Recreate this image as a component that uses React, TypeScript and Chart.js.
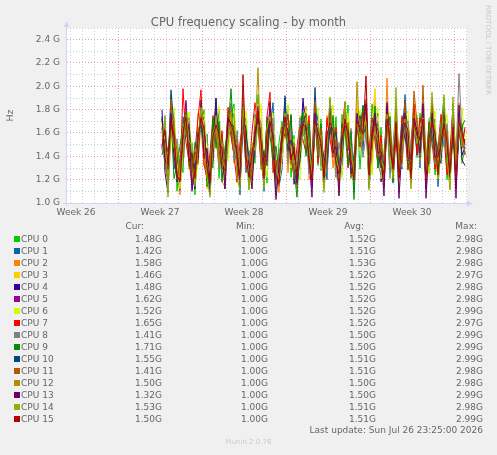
import React, { useEffect, useRef } from 'react';
import { Chart, registerables } from 'chart.js';

Chart.register(...registerables);

const FONT = '"DejaVu Sans", "Liberation Sans", sans-serif';
const TEXT = '#666666';

// ---- data ----
const chartTitle = 'CPU frequency scaling - by month';
const cpuNames = ['CPU 0', 'CPU 1', 'CPU 2', 'CPU 3', 'CPU 4', 'CPU 5', 'CPU 6', 'CPU 7', 'CPU 8', 'CPU 9', 'CPU 10', 'CPU 11', 'CPU 12', 'CPU 13', 'CPU 14', 'CPU 15'];
const cpuColors = ['#00CC00', '#0066B3', '#FF8000', '#FFCC00', '#330099', '#990099', '#CCFF00', '#FF0000', '#808080', '#008F00', '#00487D', '#B35A00', '#B38F00', '#6B006B', '#8FB300', '#B30000'];

const curValues = [1.48, 1.42, 1.58, 1.46, 1.48, 1.62, 1.52, 1.65, 1.41, 1.71, 1.55, 1.41, 1.50, 1.32, 1.53, 1.50];
const minValues = [1.00, 1.00, 1.00, 1.00, 1.00, 1.00, 1.00, 1.00, 1.00, 1.00, 1.00, 1.00, 1.00, 1.00, 1.00, 1.00];
const avgValues = [1.52, 1.51, 1.53, 1.52, 1.52, 1.52, 1.52, 1.52, 1.50, 1.50, 1.51, 1.51, 1.50, 1.50, 1.51, 1.51];
const maxValues = [2.98, 2.98, 2.98, 2.97, 2.98, 2.98, 2.99, 2.97, 2.99, 2.99, 2.99, 2.98, 2.98, 2.99, 2.98, 2.99];

// time axis in hours from the left edge of the graph; samples every 6 h
const xRange = [0, 802];
const sampleStartHour = 192;
const sampleStepHours = 6;
const dayLineHours = [8, 32, 56, 80, 104, 128, 152, 176, 200, 224, 248, 272, 296, 320, 344, 368, 392, 416, 440, 464, 488, 512, 536, 560, 584, 608, 632, 656, 680, 704, 728, 752, 776, 800];
const weekLineHours = [104, 272, 440, 608, 776];
const weekLabelHours = [20, 188, 356, 524, 692];
const weekLabels = ['Week 26', 'Week 27', 'Week 28', 'Week 29', 'Week 30'];

const yRange = [1.0, 2.5];
const yTickValues = [1.0, 1.1, 1.2, 1.3, 1.4, 1.5, 1.6, 1.7, 1.8, 1.9, 2.0, 2.1, 2.2, 2.3, 2.4, 2.5];
const yMajorTicks = [1.0, 1.2, 1.4, 1.6, 1.8, 2.0, 2.2, 2.4];

const cpu0 = [
  1.74, 1.33, 1.21, 1.68, 1.77, 1.10, 1.41, 1.26, 1.86, 1.45, 1.52, 1.07, 1.65, 1.59, 1.80, 1.17, 1.37,
  1.30, 1.89, 1.21, 1.59, 1.28, 1.48, 1.75, 1.85, 1.24, 1.44, 1.65, 1.73, 1.12, 1.47, 1.34, 1.93, 1.29,
  1.45, 1.17, 1.87, 1.37, 1.06, 1.52, 1.70, 1.55, 1.83, 1.22, 1.58, 1.16, 1.68, 1.77, 1.47, 1.62, 1.13,
  1.88, 1.32, 1.72, 1.20, 1.61, 1.64, 1.41, 1.74, 1.07, 1.76, 1.57, 1.84, 1.21, 1.39, 1.80, 1.29, 1.68,
  1.72, 1.32, 1.85, 1.59, 1.30, 1.65, 1.14, 1.87, 1.26, 1.43, 1.62, 1.09, 1.75, 1.69, 1.28, 1.51, 1.83,
  1.39, 1.77, 1.60, 1.18, 1.72, 1.76, 1.24, 1.48, 1.66, 1.90, 1.20, 1.40, 1.61, 1.22, 1.74, 1.34, 1.48,
];
const cpu1 = [
  1.48, 1.69, 1.24, 1.93, 1.29, 1.44, 1.17, 1.74, 1.58, 1.65, 1.14, 1.37, 1.33, 1.83, 1.44, 1.59, 1.12,
  1.70, 1.52, 1.80, 1.22, 1.40, 1.78, 1.59, 1.41, 1.62, 1.07, 1.85, 1.26, 1.45, 1.18, 1.76, 1.64, 1.57,
  1.10, 1.74, 1.61, 1.86, 1.34, 1.14, 1.29, 1.90, 1.39, 1.70, 1.20, 1.41, 1.34, 1.85, 1.72, 1.32, 1.26,
  1.59, 1.76, 1.28, 1.44, 1.20, 1.89, 1.60, 1.32, 1.41, 1.24, 1.82, 1.48, 1.62, 1.10, 1.68, 1.75, 1.45,
  1.87, 1.13, 1.45, 1.78, 1.65, 1.22, 1.37, 1.64, 1.74, 1.17, 1.77, 1.34, 1.29, 1.93, 1.52, 1.21, 1.66,
  1.74, 1.30, 1.86, 1.37, 1.26, 1.64, 1.72, 1.14, 1.51, 1.75, 1.61, 1.28, 1.85, 1.12, 1.59, 1.68, 1.42,
];
const cpu2 = [
  1.55, 1.41, 1.32, 1.77, 1.64, 1.26, 1.07, 1.57, 1.79, 1.29, 1.37, 1.21, 1.77, 1.65, 1.32, 1.47, 1.22,
  1.41, 1.83, 1.62, 1.18, 1.14, 1.70, 1.86, 1.34, 1.52, 1.28, 1.74, 1.59, 1.21, 1.33, 1.68, 1.77, 1.39,
  1.33, 1.55, 1.73, 1.30, 1.24, 1.09, 1.66, 1.75, 1.26, 1.60, 1.45, 1.12, 1.55, 1.65, 1.83, 1.20, 1.30,
  1.75, 1.43, 1.59, 1.14, 1.75, 1.68, 1.30, 1.53, 1.24, 1.62, 1.87, 1.36, 1.52, 1.28, 1.60, 1.70, 1.77,
  1.64, 1.43, 1.26, 1.88, 1.48, 1.55, 1.18, 2.07, 1.33, 1.39, 1.60, 1.24, 1.65, 1.79, 1.41, 1.30, 1.75,
  1.53, 1.69, 1.72, 1.29, 1.59, 1.83, 1.36, 1.24, 1.69, 1.62, 1.43, 1.12, 1.73, 1.40, 1.86, 1.55, 1.58,
];
const cpu3 = [
  1.65, 1.60, 1.14, 1.64, 1.47, 1.36, 1.25, 1.43, 1.72, 1.75, 1.22, 1.29, 1.48, 1.90, 1.61, 1.12, 1.32,
  1.60, 1.66, 1.33, 1.47, 1.21, 1.58, 1.68, 1.76, 1.17, 1.37, 1.80, 1.44, 1.28, 1.12, 1.54, 1.85, 1.65,
  1.22, 1.39, 1.79, 1.58, 1.17, 1.32, 1.47, 1.67, 1.62, 1.41, 1.26, 1.22, 1.75, 1.59, 1.55, 1.44, 1.20,
  1.69, 1.60, 1.37, 1.30, 1.48, 1.83, 1.52, 1.22, 1.17, 1.57, 1.64, 1.74, 1.30, 1.21, 1.88, 1.45, 1.59,
  1.80, 1.24, 1.64, 1.98, 1.37, 1.33, 1.26, 1.68, 1.60, 1.24, 1.86, 1.17, 1.45, 1.62, 1.72, 1.13, 1.89,
  1.61, 1.41, 1.79, 1.22, 1.44, 1.66, 1.55, 1.33, 1.40, 1.83, 1.32, 1.21, 1.64, 1.29, 1.68, 1.51, 1.46,
];
const cpu4 = [
  1.80, 1.26, 1.09, 1.83, 1.55, 1.18, 1.33, 1.65, 1.62, 1.51, 1.26, 1.12, 1.58, 1.73, 1.40, 1.34, 1.18,
  1.52, 1.90, 1.45, 1.30, 1.33, 1.66, 1.61, 1.55, 1.47, 1.20, 1.72, 1.64, 1.30, 1.24, 1.45, 1.73, 1.60,
  1.28, 1.65, 1.69, 1.48, 1.29, 1.21, 1.58, 1.62, 1.54, 1.75, 1.16, 1.29, 1.44, 1.90, 1.59, 1.53, 1.24,
  1.65, 1.68, 1.52, 1.24, 1.53, 1.73, 1.69, 1.43, 1.26, 1.41, 1.74, 1.57, 1.44, 1.32, 1.65, 1.62, 1.83,
  1.75, 1.21, 1.57, 1.72, 1.77, 1.18, 1.30, 1.83, 1.45, 1.29, 1.72, 1.26, 1.59, 1.88, 1.36, 1.39, 1.68,
  1.48, 1.58, 1.76, 1.12, 1.65, 1.79, 1.41, 1.39, 1.60, 1.70, 1.53, 1.32, 1.80, 1.21, 1.77, 1.41, 1.48,
];
const cpu5 = [
  1.47, 1.64, 1.28, 1.72, 1.37, 1.30, 1.11, 1.59, 1.88, 1.41, 1.18, 1.44, 1.39, 1.68, 1.74, 1.28, 1.07,
  1.64, 1.59, 1.68, 1.36, 1.24, 1.75, 1.79, 1.45, 1.34, 1.29, 1.69, 1.53, 1.17, 1.40, 1.61, 1.83, 1.37,
  1.17, 1.47, 1.76, 1.65, 1.12, 1.39, 1.34, 1.82, 1.49, 1.53, 1.39, 1.18, 1.62, 1.73, 1.65, 1.58, 1.14,
  1.79, 1.52, 1.45, 1.34, 1.69, 1.59, 1.62, 1.47, 1.13, 1.68, 1.66, 1.45, 1.52, 1.16, 1.75, 1.60, 1.62,
  1.84, 1.28, 1.48, 1.65, 1.55, 1.44, 1.22, 1.75, 1.53, 1.32, 1.67, 1.21, 1.62, 1.73, 1.55, 1.17, 1.72,
  1.41, 1.62, 1.69, 1.17, 1.54, 1.85, 1.59, 1.26, 1.57, 1.68, 1.39, 1.36, 1.76, 1.14, 1.70, 1.53, 1.62,
];
const cpu6 = [
  1.59, 1.68, 1.37, 1.52, 1.82, 1.30, 1.12, 1.48, 1.62, 1.78, 1.41, 1.20, 1.32, 1.70, 1.76, 1.51, 1.22,
  1.41, 1.64, 1.83, 1.26, 1.45, 1.36, 1.76, 1.80, 1.52, 1.24, 1.60, 1.79, 1.39, 1.17, 1.73, 1.59, 1.85,
  1.34, 1.22, 1.66, 1.77, 1.44, 1.20, 1.37, 1.64, 1.85, 1.30, 1.55, 1.32, 1.20, 1.72, 1.80, 1.61, 1.29,
  1.64, 1.82, 1.29, 1.44, 1.34, 1.68, 1.84, 1.26, 1.45, 1.21, 1.68, 1.77, 1.51, 1.18, 1.64, 1.80, 1.54,
  1.72, 1.52, 1.24, 1.69, 1.82, 1.21, 1.47, 1.62, 1.78, 1.24, 1.59, 1.51, 1.32, 1.73, 1.79, 1.20, 1.59,
  1.76, 1.36, 1.65, 1.51, 1.25, 1.68, 1.79, 1.21, 1.39, 1.61, 1.76, 1.18, 1.55, 1.44, 1.72, 1.82, 1.52,
];
const cpu7 = [
  1.64, 1.48, 1.30, 1.59, 1.62, 1.45, 1.22, 1.98, 1.52, 1.36, 1.16, 1.45, 1.73, 1.97, 1.33, 1.21, 1.43,
  1.75, 1.55, 1.36, 1.62, 1.21, 1.82, 1.57, 1.41, 1.18, 1.52, 1.69, 1.32, 1.24, 1.61, 1.86, 1.66, 1.34,
  1.21, 1.74, 1.95, 1.26, 1.37, 1.16, 1.65, 1.57, 1.76, 1.39, 1.22, 1.48, 1.68, 1.54, 1.43, 1.75, 1.28,
  1.84, 1.34, 1.62, 1.17, 1.73, 1.55, 1.39, 1.65, 1.24, 1.60, 1.86, 1.30, 1.45, 1.33, 1.70, 1.48, 1.78,
  1.62, 1.44, 1.73, 1.53, 1.33, 1.58, 1.14, 1.75, 1.66, 1.21, 1.54, 1.39, 1.74, 1.60, 1.29, 1.44, 1.85,
  1.43, 1.73, 1.58, 1.30, 1.69, 1.52, 1.29, 1.47, 1.76, 1.57, 1.24, 1.45, 1.82, 1.22, 1.60, 1.48, 1.65,
];
const cpu8 = [
  1.45, 1.75, 1.17, 1.83, 1.34, 1.55, 1.29, 1.33, 1.68, 1.73, 1.12, 1.26, 1.59, 1.62, 1.48, 1.36, 1.32,
  1.65, 1.58, 1.29, 1.52, 1.12, 1.55, 1.85, 1.36, 1.59, 1.33, 1.64, 1.55, 1.20, 1.45, 1.41, 1.75, 1.69,
  1.24, 1.55, 1.62, 1.73, 1.14, 1.44, 1.52, 1.77, 1.34, 1.69, 1.21, 1.37, 1.73, 1.57, 1.62, 1.25, 1.40,
  1.68, 1.62, 1.32, 1.43, 1.26, 1.72, 1.62, 1.22, 1.52, 1.32, 1.77, 1.47, 1.64, 1.17, 1.73, 1.66, 1.39,
  1.59, 1.36, 1.69, 1.61, 1.33, 1.24, 1.43, 1.70, 1.21, 1.51, 1.80, 1.26, 1.36, 1.64, 1.70, 1.45, 1.55,
  1.73, 1.33, 1.68, 1.39, 1.57, 1.62, 1.33, 1.51, 1.67, 1.48, 1.68, 1.30, 1.52, 1.40, 2.11, 1.59, 1.41,
];
const cpu9 = [
  1.41, 1.55, 1.44, 1.76, 1.21, 1.33, 1.49, 1.66, 1.78, 1.32, 1.26, 1.52, 1.43, 1.75, 1.61, 1.14, 1.26,
  1.73, 1.47, 1.70, 1.18, 1.48, 1.62, 1.98, 1.52, 1.41, 1.21, 1.78, 1.37, 1.33, 1.26, 1.66, 1.65, 1.45,
  1.29, 1.70, 1.58, 1.37, 1.49, 1.26, 1.60, 1.69, 1.48, 1.76, 1.30, 1.05, 1.52, 1.78, 1.40, 1.68, 1.21,
  1.74, 1.39, 1.68, 1.29, 1.51, 1.59, 1.75, 1.43, 1.22, 1.68, 1.62, 1.32, 1.61, 1.03, 1.68, 1.52, 1.84,
  1.58, 1.41, 1.51, 1.83, 1.30, 1.47, 1.26, 1.61, 1.74, 1.18, 1.68, 1.39, 1.48, 1.80, 1.34, 1.25, 1.72,
  1.55, 1.39, 1.74, 1.21, 1.68, 1.58, 1.40, 1.28, 1.64, 1.85, 1.36, 1.20, 1.62, 1.26, 1.58, 1.66, 1.71,
];
const cpu10 = [
  1.74, 1.41, 1.18, 1.97, 1.65, 1.21, 1.36, 1.47, 1.58, 1.68, 1.34, 1.29, 1.61, 1.66, 1.51, 1.43, 1.13,
  1.55, 1.84, 1.43, 1.36, 1.32, 1.73, 1.64, 1.51, 1.45, 1.13, 1.67, 1.59, 1.39, 1.21, 1.55, 1.73, 1.52,
  1.41, 1.32, 1.72, 1.59, 1.21, 1.30, 1.51, 1.92, 1.45, 1.54, 1.44, 1.16, 1.37, 1.64, 1.76, 1.49, 1.36,
  1.99, 1.45, 1.51, 1.39, 1.33, 1.65, 1.55, 1.60, 1.30, 1.39, 1.72, 1.64, 1.26, 1.41, 1.61, 1.75, 1.58,
  1.66, 1.22, 1.60, 1.73, 1.45, 1.30, 1.36, 1.82, 1.40, 1.37, 1.64, 1.22, 1.67, 1.55, 1.47, 1.37, 1.67,
  1.64, 1.53, 1.82, 1.25, 1.36, 1.70, 1.58, 1.43, 1.34, 1.73, 1.52, 1.26, 1.75, 1.34, 1.66, 1.47, 1.55,
];
const cpu11 = [
  1.65, 1.32, 1.18, 1.89, 1.55, 1.20, 1.36, 1.39, 1.75, 1.67, 1.22, 1.40, 1.34, 1.82, 1.53, 1.22, 1.37,
  1.52, 1.69, 1.39, 1.51, 1.18, 1.78, 1.65, 1.49, 1.54, 1.16, 1.93, 1.34, 1.40, 1.20, 1.68, 1.68, 1.39,
  1.39, 1.34, 1.88, 1.55, 1.18, 1.34, 1.62, 1.62, 1.69, 1.33, 1.52, 1.14, 1.64, 1.60, 1.77, 1.34, 1.34,
  1.87, 1.41, 1.64, 1.17, 1.36, 1.89, 1.40, 1.54, 1.14, 1.64, 1.59, 1.69, 1.22, 1.33, 1.62, 1.72, 1.53,
  1.89, 1.21, 1.66, 1.62, 1.40, 1.51, 1.16, 1.65, 1.64, 1.24, 1.85, 1.37, 1.34, 1.88, 1.37, 1.40, 1.96,
  1.69, 1.40, 2.01, 1.34, 1.33, 1.88, 1.37, 1.44, 1.65, 1.59, 1.62, 1.21, 1.83, 1.37, 1.61, 1.60, 1.41,
];
const cpu12 = [
  1.61, 1.45, 1.24, 1.65, 1.73, 1.26, 1.22, 1.68, 1.61, 1.52, 1.21, 1.36, 1.52, 1.84, 1.44, 1.34, 1.24,
  1.60, 1.68, 1.33, 1.51, 1.24, 1.62, 1.78, 1.48, 1.39, 1.41, 1.76, 1.45, 1.26, 1.24, 1.59, 2.16, 1.33,
  1.22, 1.52, 1.83, 1.51, 1.26, 1.30, 1.54, 1.68, 1.59, 1.43, 1.34, 1.20, 1.60, 1.66, 1.49, 1.48, 1.26,
  1.73, 1.52, 1.58, 1.24, 1.48, 1.77, 1.51, 1.43, 1.21, 1.54, 1.72, 1.52, 1.36, 1.29, 2.04, 1.52, 1.60,
  1.75, 1.22, 1.54, 1.66, 1.48, 1.37, 1.25, 1.76, 1.52, 1.28, 1.73, 1.32, 1.45, 1.76, 1.49, 1.29, 1.74,
  1.55, 1.51, 1.77, 1.29, 1.51, 1.72, 1.48, 1.34, 1.55, 1.73, 1.51, 1.25, 1.70, 1.30, 1.73, 1.52, 1.50,
];
const cpu13 = [
  1.72, 1.37, 1.29, 1.77, 1.41, 1.22, 1.20, 1.54, 1.67, 1.65, 1.10, 1.34, 1.37, 1.88, 1.40, 1.47, 1.20,
  1.37, 1.82, 1.51, 1.47, 1.12, 1.72, 1.68, 1.65, 1.37, 1.20, 1.79, 1.37, 1.34, 1.12, 1.62, 1.72, 1.59,
  1.33, 1.37, 1.86, 1.49, 1.03, 1.33, 1.58, 1.68, 1.62, 1.39, 1.45, 1.17, 1.58, 1.70, 1.70, 1.39, 1.05,
  1.77, 1.54, 1.48, 1.20, 1.39, 1.87, 1.43, 1.48, 1.06, 1.58, 1.66, 1.62, 1.25, 1.28, 1.77, 1.59, 1.65,
  1.85, 1.16, 1.59, 1.77, 1.43, 1.44, 1.06, 1.86, 1.48, 1.30, 1.70, 1.04, 1.49, 1.77, 1.40, 1.33, 1.73,
  1.62, 1.43, 1.85, 1.04, 1.49, 1.77, 1.39, 1.40, 1.49, 1.79, 1.47, 1.22, 1.68, 1.04, 1.84, 1.37, 1.32,
];
const cpu14 = [
  1.57, 1.73, 1.05, 1.62, 1.47, 1.51, 1.21, 1.44, 1.75, 1.53, 1.49, 1.14, 1.48, 1.82, 1.57, 1.22, 1.05,
  1.48, 1.75, 1.49, 1.37, 1.30, 1.55, 1.65, 1.77, 1.22, 1.11, 1.83, 1.47, 1.11, 1.52, 1.45, 1.67, 1.64,
  1.12, 1.65, 1.74, 1.48, 1.30, 1.20, 1.44, 1.77, 1.51, 1.48, 1.37, 1.26, 1.44, 1.59, 1.73, 1.47, 1.22,
  1.68, 1.61, 1.43, 1.09, 1.48, 1.91, 1.55, 1.39, 1.28, 1.44, 1.87, 1.52, 1.47, 1.22, 1.68, 1.57, 1.66,
  1.70, 1.11, 1.51, 1.61, 1.54, 1.37, 1.29, 1.76, 1.41, 1.21, 1.99, 1.24, 1.48, 1.72, 1.58, 1.12, 1.68,
  1.51, 1.61, 1.73, 1.21, 1.48, 1.95, 1.58, 1.20, 1.47, 1.93, 1.41, 1.11, 1.91, 1.25, 1.68, 1.48, 1.53,
];
const cpu15 = [
  1.49, 1.62, 1.33, 1.70, 1.58, 1.24, 1.18, 1.60, 1.74, 1.36, 1.43, 1.21, 1.55, 1.73, 1.64, 1.30, 1.17,
  1.57, 1.67, 1.59, 1.30, 1.28, 1.74, 1.68, 1.59, 1.41, 1.22, 2.10, 1.40, 1.22, 1.43, 1.58, 1.79, 1.53,
  1.21, 1.60, 1.70, 1.55, 1.22, 1.18, 1.52, 1.74, 1.57, 1.37, 1.48, 1.24, 1.53, 1.67, 1.65, 1.39, 1.20,
  1.70, 1.61, 1.51, 1.22, 1.58, 1.69, 1.62, 1.33, 1.25, 1.52, 1.72, 1.58, 1.37, 1.20, 1.70, 1.65, 1.59,
  2.09, 1.24, 1.55, 1.70, 1.62, 1.33, 1.25, 1.72, 1.52, 1.29, 1.68, 1.22, 1.55, 1.69, 1.62, 1.21, 1.69,
  1.58, 1.54, 1.72, 1.20, 1.55, 1.69, 1.60, 1.24, 1.53, 1.68, 1.52, 1.26, 1.65, 1.22, 1.69, 1.61, 1.50,
];

const cpuSeries = [cpu0, cpu1, cpu2, cpu3, cpu4, cpu5, cpu6, cpu7, cpu8, cpu9, cpu10, cpu11, cpu12, cpu13, cpu14, cpu15];

// ---- helpers ----
const near = (list: number[], v: number) => list.some((m) => Math.abs(m - v) < 1e-6);
const GRID_MINOR = 'rgba(175,175,175,0.6)';
const GRID_MAJOR = 'rgba(222,79,79,0.55)';
const AXIS = '#CFD6F8';

const xTickValues = [...dayLineHours, ...weekLabelHours].sort((a, b) => a - b);

const muninPlugin = {
  id: 'muninFrame',
  beforeDraw(chart: any) {
    const { ctx, chartArea: a } = chart;
    ctx.save();
    ctx.fillStyle = '#F0F0F0';
    ctx.fillRect(0, 0, chart.width, chart.height);
    ctx.fillStyle = '#FFFFFF';
    ctx.fillRect(a.left, a.top, a.right - a.left, a.bottom - a.top);
    ctx.restore();
  },
  afterDraw(chart: any) {
    const { ctx, chartArea: a } = chart;
    ctx.save();
    ctx.strokeStyle = AXIS;
    ctx.fillStyle = AXIS;
    ctx.lineWidth = 1;
    const x0 = Math.round(a.left) + 0.5;
    const y0 = Math.round(a.bottom) + 0.5;
    ctx.beginPath();
    ctx.moveTo(x0, a.bottom + 3);
    ctx.lineTo(x0, a.top - 3);
    ctx.moveTo(a.left - 3, y0);
    ctx.lineTo(a.right + 3, y0);
    ctx.stroke();
    ctx.beginPath();
    ctx.moveTo(x0, a.top - 7);
    ctx.lineTo(x0 - 3, a.top - 1);
    ctx.lineTo(x0 + 3, a.top - 1);
    ctx.closePath();
    ctx.fill();
    ctx.beginPath();
    ctx.moveTo(a.right + 6, y0);
    ctx.lineTo(a.right, y0 - 3);
    ctx.lineTo(a.right, y0 + 3);
    ctx.closePath();
    ctx.fill();
    ctx.restore();
  },
};

function buildConfig(): any {
  const datasets = cpuSeries.map((vals, s) => ({
    label: cpuNames[s],
    data: vals.map((v, i) => ({ x: sampleStartHour + sampleStepHours * i, y: v })),
    borderColor: cpuColors[s],
    backgroundColor: cpuColors[s],
    borderWidth: 1,
    pointRadius: 0,
    pointHoverRadius: 0,
    tension: 0,
    fill: false,
    borderJoinStyle: 'round',
    order: cpuSeries.length - s,
  }));

  return {
    type: 'line',
    data: { datasets },
    plugins: [muninPlugin],
    options: {
      animation: false,
      responsive: false,
      devicePixelRatio: 1,
      events: [],
      layout: { padding: { left: 0, right: 30, top: 28, bottom: 232 } },
      plugins: {
        legend: { display: false },
        tooltip: { enabled: false },
        title: { display: false },
      },
      scales: {
        x: {
          type: 'linear',
          min: xRange[0],
          max: xRange[1],
          afterBuildTicks: (scale: any) => {
            scale.ticks = xTickValues.map((v) => ({ value: v }));
          },
          afterFit: (scale: any) => {
            scale.height = 20;
            scale.paddingLeft = 0;
            scale.paddingRight = 0;
          },
          ticks: {
            autoSkip: false,
            maxRotation: 0,
            minRotation: 0,
            padding: 4,
            color: TEXT,
            font: { family: FONT, size: 9 },
            callback: (v: number) => {
              const k = weekLabelHours.indexOf(v);
              return k >= 0 ? weekLabels[k] : '';
            },
          },
          grid: {
            drawTicks: false,
            color: (ctx: any) => {
              const v = ctx.tick ? ctx.tick.value : -1;
              if (near(weekLabelHours, v)) return 'rgba(0,0,0,0)';
              if (near(weekLineHours, v)) return GRID_MAJOR;
              return GRID_MINOR;
            },
          },
          border: { display: true, color: AXIS, width: 1, dash: [1, 2] },
        },
        y: {
          type: 'linear',
          min: yRange[0],
          max: yRange[1],
          afterBuildTicks: (scale: any) => {
            scale.ticks = yTickValues.map((v) => ({ value: v }));
          },
          afterFit: (scale: any) => {
            scale.width = 66;
            scale.paddingTop = 0;
            scale.paddingBottom = 0;
          },
          title: {
            display: true,
            text: 'Hz',
            color: TEXT,
            font: { family: FONT, size: 9.5 },
            padding: { top: 5, bottom: 0 },
          },
          ticks: {
            autoSkip: false,
            padding: 6,
            color: TEXT,
            font: { family: FONT, size: 9 },
            callback: (v: number) => (near(yMajorTicks, v) ? `${v.toFixed(1)} G` : ''),
          },
          grid: {
            drawTicks: false,
            color: (ctx: any) => {
              const v = ctx.tick ? ctx.tick.value : -1;
              if (Math.abs(v - yRange[0]) < 1e-6) return 'rgba(0,0,0,0)';
              if (near(yMajorTicks, v)) return GRID_MAJOR;
              return GRID_MINOR;
            },
          },
          border: { display: true, color: AXIS, width: 1, dash: [1, 2] },
        },
      },
    },
  };
}

const txt: React.CSSProperties = {
  position: 'absolute',
  fontFamily: FONT,
  fontSize: 9,
  lineHeight: '11px',
  color: TEXT,
  whiteSpace: 'nowrap',
};

const fmt = (v: number) => `${v.toFixed(2)}G`;

export default function App() {
  const ref = useRef<HTMLCanvasElement | null>(null);
  useEffect(() => {
    if (!ref.current) return;
    const chart = new Chart(ref.current, buildConfig());
    return () => chart.destroy();
  }, []);

  const W = 497;
  const rowTop = (r: number) => 234 + 12 * r;

  return (
    <div style={{ position: 'fixed', left: 0, top: 0, width: W, height: 455, background: '#F0F0F0', overflow: 'hidden' }}>
      <canvas ref={ref} width={W} height={455} style={{ position: 'absolute', left: 0, top: 0, width: W, height: 455 }} />
      <div style={{ ...txt, top: 14.5, left: 0, width: W, textAlign: 'center', fontSize: 11.5, lineHeight: '14px' }}>{chartTitle}</div>
      <div
        style={{
          position: 'absolute',
          left: 483,
          top: 5,
          writingMode: 'vertical-rl',
          fontFamily: FONT,
          fontSize: 7,
          lineHeight: '9px',
          color: '#C8C8C8',
          whiteSpace: 'nowrap',
        }}
      >
        RRDTOOL / TOBI OETIKER
      </div>
      <div style={{ ...txt, top: 221, right: W - 144 }}>Cur:</div>
      <div style={{ ...txt, top: 221, right: W - 255 }}>Min:</div>
      <div style={{ ...txt, top: 221, right: W - 364 }}>Avg:</div>
      <div style={{ ...txt, top: 221, right: W - 477 }}>Max:</div>
      {cpuNames.map((name, r) => (
        <React.Fragment key={name}>
          <div style={{ position: 'absolute', left: 14, top: rowTop(r) + 2, width: 6, height: 6, background: cpuColors[r] }} />
          <div style={{ ...txt, top: rowTop(r), left: 21 }}>{name}</div>
          <div style={{ ...txt, top: rowTop(r), right: W - 162 }}>{fmt(curValues[r])}</div>
          <div style={{ ...txt, top: rowTop(r), right: W - 268 }}>{fmt(minValues[r])}</div>
          <div style={{ ...txt, top: rowTop(r), right: W - 376 }}>{fmt(avgValues[r])}</div>
          <div style={{ ...txt, top: rowTop(r), right: W - 483 }}>{fmt(maxValues[r])}</div>
        </React.Fragment>
      ))}
      <div style={{ ...txt, top: 425, right: W - 483 }}>Last update: Sun Jul 26 23:25:00 2026</div>
      <div style={{ ...txt, top: 437.5, left: 0, width: W, textAlign: 'center', fontSize: 7, lineHeight: '9px', color: '#CCCCCC' }}>
        Munin 2.0.76
      </div>
    </div>
  );
}
